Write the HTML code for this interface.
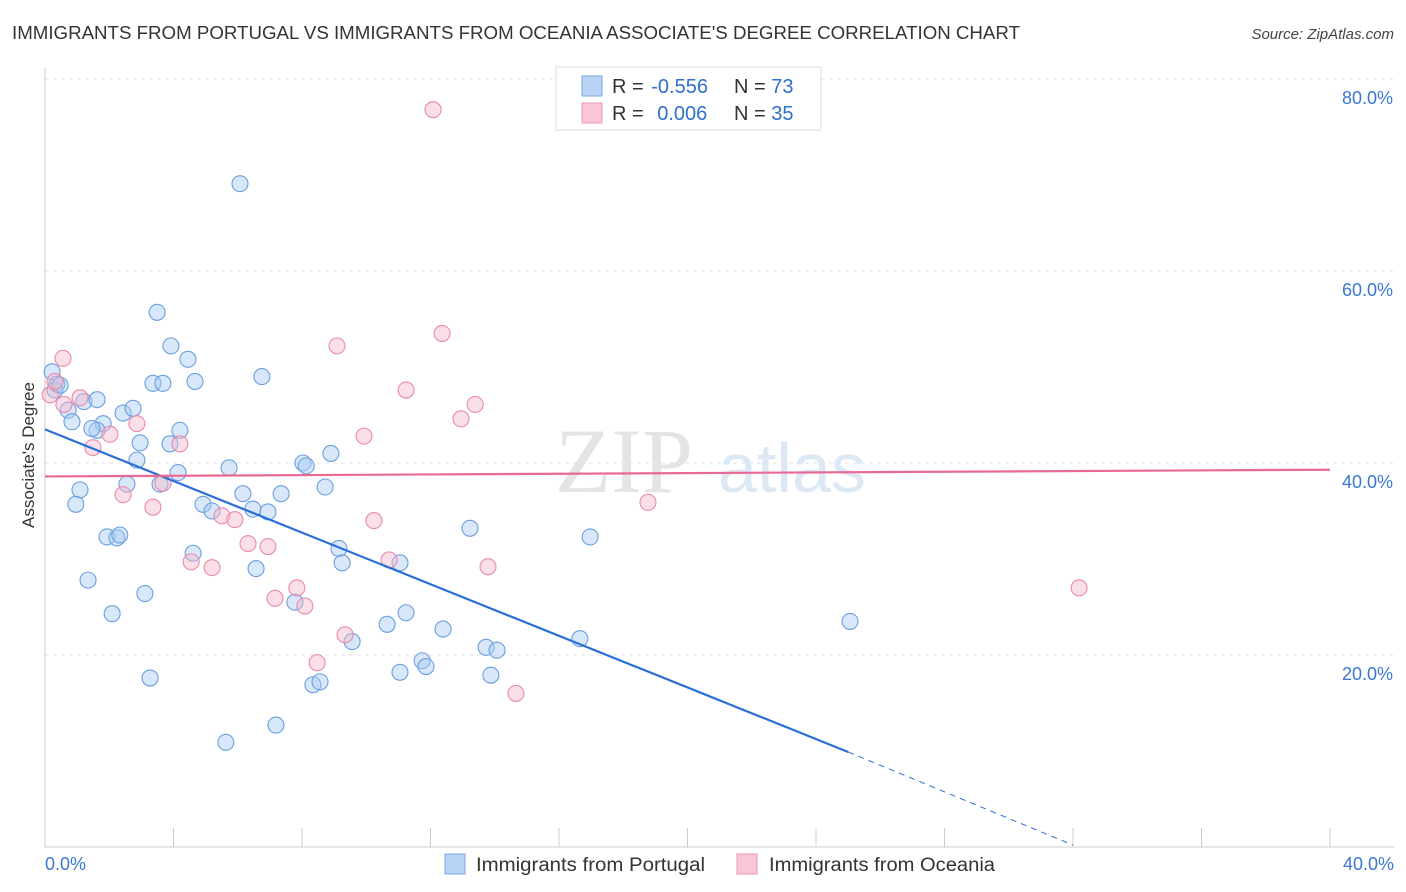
<!DOCTYPE html>
<html><head><meta charset="utf-8"><style>
body{margin:0;background:#fff;font-family:"Liberation Sans",sans-serif;}
svg{display:block}
</style></head><body>
<svg id="chart" width="1406" height="892" xmlns="http://www.w3.org/2000/svg">
<text x="12" y="39" font-size="18" fill="#333" textLength="1008" lengthAdjust="spacingAndGlyphs">IMMIGRANTS FROM PORTUGAL VS IMMIGRANTS FROM OCEANIA ASSOCIATE'S DEGREE CORRELATION CHART</text>
<text x="1394" y="39" font-size="15" fill="#444" text-anchor="end" font-style="italic">Source: ZipAtlas.com</text>
<g id="grid"></g>
<text x="555" y="492" font-size="92" fill="#e4e4e4" font-family="Liberation Serif,serif">ZIP</text>
<text x="718" y="492" font-size="70" fill="#dde8f5">atlas</text>
<g id="pts"></g>
<g id="lines"></g>
<text transform="translate(34,455) rotate(-90)" font-size="17" fill="#333" text-anchor="middle">Associate's Degree</text>
<g>
<rect x="556" y="67" width="265" height="63" fill="#fff" stroke="#ddd"/>
<rect x="582" y="76" width="20" height="20" fill="#b8d3f5" stroke="#7aaae6"/>
<rect x="582" y="103" width="20" height="20" fill="#f9c6d6" stroke="#ec9ab5"/>
<text x="612" y="93" font-size="20" fill="#333">R = <tspan fill="#2f6fd0" dx="2">-0.556</tspan></text>
<text x="734" y="93" font-size="20" fill="#333">N = <tspan fill="#2f6fd0">73</tspan></text>
<text x="612" y="120" font-size="20" fill="#333">R = <tspan fill="#2f6fd0" dx="8">0.006</tspan></text>
<text x="734" y="120" font-size="20" fill="#333">N = <tspan fill="#2f6fd0">35</tspan></text>
</g>
<g>
<rect x="445" y="854" width="20" height="20" fill="#b8d3f5" stroke="#7aaae6"/>
<text x="476" y="871" font-size="19" fill="#333" textLength="229" lengthAdjust="spacingAndGlyphs">Immigrants from Portugal</text>
<rect x="737" y="854" width="20" height="20" fill="#f9c6d6" stroke="#ec9ab5"/>
<text x="769" y="871" font-size="19" fill="#333" textLength="226" lengthAdjust="spacingAndGlyphs">Immigrants from Oceania</text>
</g>
</svg>
<script>
const xTicks=[0,4,8,12,16,20,24,28,32,36,40];
const yTicks=[20,40,60,80];
const yTickLabels=["20.0%","40.0%","60.0%","80.0%"];
const xEndLabels=["0.0%","40.0%"];
const blueX=[0.22,0.37,0.31,0.47,0.72,0.84,1.21,1.62,1.81,1.62,1.46,1.09,0.96,1.34,1.93,2.24,2.33,2.09,2.55,2.43,2.74,2.86,2.96,3.11,3.27,3.36,3.49,3.67,3.92,3.89,4.20,4.14,3.58,4.45,4.67,4.61,4.92,5.20,5.63,5.73,6.07,6.16,6.47,6.57,6.75,6.94,7.19,7.35,7.78,8.03,8.13,8.34,8.56,8.72,8.90,9.15,9.25,9.56,10.65,11.05,11.05,11.24,11.74,11.86,12.39,13.23,13.73,13.88,14.07,16.65,16.97,25.06];
const blueY=[49.5,48.2,47.6,48.1,45.5,44.3,46.4,46.6,44.1,43.4,43.6,37.2,35.7,27.8,32.3,32.2,32.5,24.3,37.8,45.2,45.7,40.3,42.1,26.4,17.6,48.3,55.7,48.3,52.2,42.0,43.4,39.0,37.8,50.8,48.5,30.6,35.7,35.0,10.9,39.5,69.1,36.8,35.2,29.0,49.0,34.9,12.7,36.8,25.5,40.0,39.7,16.9,17.2,37.5,41.0,31.1,29.6,21.4,23.2,29.6,18.2,24.4,19.4,18.8,22.7,33.2,20.8,17.9,20.5,21.7,32.3,23.5];
const pinkX=[0.16,0.31,0.56,0.59,1.09,1.49,2.02,2.43,2.86,3.36,3.67,4.20,4.55,5.20,5.51,5.91,6.32,6.94,7.16,7.84,8.09,8.47,9.09,9.34,9.93,10.24,10.71,11.24,12.08,12.36,12.95,13.39,13.79,14.66,18.77,32.19];
const pinkY=[47.1,48.5,50.9,46.1,46.8,41.6,43.0,36.7,44.1,35.4,37.9,42.0,29.7,29.1,34.5,34.1,31.6,31.3,25.9,27.0,25.1,19.2,52.2,22.1,42.8,34.0,29.9,47.6,76.8,53.5,44.6,46.1,29.2,16.0,35.9,27.0];
const blueTrend=[[0,43.5],[25,9.9],[32,0.2]];
const pinkTrend=[[0,38.6],[40,39.3]];
const X=v=>45+v/40*1285, Y=v=>847-v*9.6;
const NS="http://www.w3.org/2000/svg";
function mk(t,a,p){const e=document.createElementNS(NS,t);for(const k in a)e.setAttribute(k,a[k]);p.appendChild(e);return e;}
const g=document.getElementById('grid');
yTicks.forEach((t,i)=>{const l=mk('line',{x1:45,x2:1394,y1:Y(t),y2:Y(t),stroke:'#e2e2e2','stroke-dasharray':'4,4'},g);


const tx=mk('text',{x:1393,y:Y(t)+25,'font-size':18,fill:'#3a78d4','text-anchor':'end'},g);tx.textContent=yTickLabels[i];

});
const ax=mk('line',{x1:45,x2:45,y1:68,y2:847,stroke:'#ccc'},g);


const bx=mk('line',{x1:45,x2:1394,y1:847,y2:847,stroke:'#ccc'},g);


xTicks.forEach(t=>{const l=mk('line',{x1:X(t),x2:X(t),y1:828,y2:847,stroke:'#ccc'},g);

});
[[0,'start',45],[40,'end',1394]].forEach((d,i)=>{const tx=mk('text',{x:d[2],y:870,'font-size':18,fill:'#3a78d4','text-anchor':d[1]},g);tx.textContent=xEndLabels[i];

});
const p=document.getElementById('pts');
function dots(xs,ys,fill,stroke,name){xs.forEach((x,i)=>{const c=mk('circle',{cx:X(x),cy:Y(ys[i]),r:8,fill:fill,'fill-opacity':0.45,stroke:stroke,'stroke-width':1.1},p);

});}
dots(blueX,blueY,'#a9c9f2','#6a9fe0','portugal-point');
dots(pinkX,pinkY,'#f7b9cd','#e98aaa','oceania-point');
const L=document.getElementById('lines');
const b1=mk('line',{x1:X(blueTrend[0][0]),y1:Y(blueTrend[0][1]),x2:X(blueTrend[1][0]),y2:Y(blueTrend[1][1]),stroke:'#2a6fd6','stroke-width':2.2},L);


const b2=mk('line',{x1:X(blueTrend[1][0]),y1:Y(blueTrend[1][1]),x2:X(blueTrend[2][0]),y2:Y(blueTrend[2][1]),stroke:'#2a6fd6','stroke-width':1,'stroke-dasharray':'6,5'},L);


const p1=mk('line',{x1:X(pinkTrend[0][0]),y1:Y(pinkTrend[0][1]),x2:X(pinkTrend[1][0]),y2:Y(pinkTrend[1][1]),stroke:'#e86a94','stroke-width':2.2},L);


</script>
</body></html>
